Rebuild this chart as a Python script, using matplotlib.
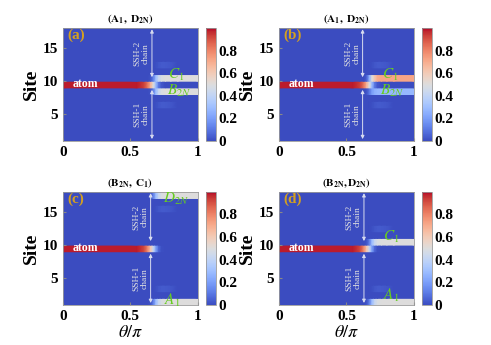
import numpy as np
import matplotlib
matplotlib.use('Agg')
import matplotlib.pyplot as plt

plt.rcParams['font.family'] = 'Liberation Serif'
plt.rcParams['mathtext.fontset'] = 'stix'

theta = [0, 0.55, 0.60, 0.63, 0.65, 0.67, 0.69, 0.71, 0.73, 0.76, 0.80, 0.85, 1.0]

# panel (a)
atom_a = [0.98, 0.98, 0.93, 0.82, 0.68, 0.50, 0.28, 0.10, 0.03, 0.0, 0.0, 0.0, 0.0]
c1_a = [0, 0, 0, 0, 0.02, 0.12, 0.30, 0.42, 0.48, 0.50, 0.50, 0.50, 0.50]
b2n_a = [0, 0, 0, 0, 0.02, 0.12, 0.30, 0.42, 0.48, 0.50, 0.50, 0.50, 0.50]
# panel (b)
atom_b = [0.98, 0.98, 0.93, 0.82, 0.68, 0.50, 0.28, 0.10, 0.03, 0.0, 0.0, 0.0, 0.0]
c1_b = [0, 0, 0, 0, 0.05, 0.25, 0.50, 0.62, 0.70, 0.72, 0.72, 0.72, 0.72]
b2n_b = [0, 0, 0, 0, 0.02, 0.10, 0.20, 0.25, 0.27, 0.28, 0.28, 0.28, 0.28]
# panel (c)
atom_c = [0.98, 0.98, 0.92, 0.78, 0.62, 0.42, 0.20, 0.06, 0.01, 0.0, 0.0, 0.0, 0.0]
d2n_c = [0, 0, 0, 0, 0.02, 0.12, 0.30, 0.42, 0.48, 0.50, 0.50, 0.50, 0.50]
a1_c = [0, 0, 0, 0, 0.02, 0.12, 0.30, 0.42, 0.48, 0.50, 0.50, 0.50, 0.50]
# panel (d)
atom_d = [0.98, 0.98, 0.92, 0.78, 0.62, 0.42, 0.20, 0.06, 0.01, 0.0, 0.0, 0.0, 0.0]
c1_d = [0, 0, 0, 0, 0.02, 0.12, 0.30, 0.42, 0.48, 0.50, 0.50, 0.50, 0.50]
a1_d = [0, 0, 0, 0, 0.02, 0.12, 0.30, 0.42, 0.48, 0.50, 0.50, 0.50, 0.50]
# faint leakage into the chains
faint = [0, 0, 0, 0, 0, 0, 0.01, 0.025, 0.035, 0.035, 0.025, 0.0, 0.0]

n_sites = 17
panel_rows = [
    {9: atom_a, 10: c1_a, 8: b2n_a, 12: faint, 6: faint},
    {9: atom_b, 10: c1_b, 8: b2n_b, 12: faint, 6: faint},
    {9: atom_c, 17: d2n_c, 1: a1_c, 15: faint, 3: faint},
    {9: atom_d, 10: c1_d, 1: a1_d, 12: faint, 3: faint},
]
titles = [r'$\mathbf{(A_1,\ D_{2N})}$', r'$\mathbf{(A_1,\ D_{2N})}$',
          r'$\mathbf{(B_{2N},\ C_1)}$', r'$\mathbf{(B_{2N},D_{2N})}$']
letters = ['(a)', '(b)', '(c)', '(d)']
# green site labels: (text, theta, site)
site_labels = [
    [(r'$C_1$', 0.78, 11.0), (r'$B_{2N}$', 0.77, 8.6)],
    [(r'$C_1$', 0.76, 11.0), (r'$B_{2N}$', 0.75, 8.6)],
    [(r'$D_{2N}$', 0.74, 17.0), (r'$A_1$', 0.75, 1.7)],
    [(r'$C_1$', 0.77, 11.2), (r'$A_1$', 0.77, 2.4)],
]
arrow_x = [0.66, 0.62, 0.65, 0.63]

fig = plt.figure(figsize=(4.91, 3.45), dpi=100)
lefts = [0.128, 0.568, 0.128, 0.568]
bottoms = [0.591, 0.591, 0.116, 0.116]
w, h = 0.275, 0.328

for k in range(4):
    ax = fig.add_axes([lefts[k], bottoms[k], w, h])
    Z = np.zeros((n_sites, len(theta)))
    for r, vals in panel_rows[k].items():
        Z[r - 1] = vals
    C = np.repeat(Z, 2, axis=0)
    y = np.repeat(np.arange(1, n_sites + 1), 2) + np.tile([0, 1], n_sites)
    X, Y = np.meshgrid(theta, y)
    m = ax.pcolormesh(X, Y, C, cmap='coolwarm', vmin=0, vmax=1, shading='gouraud')
    ax.set_xlim(0, 1)
    ax.set_ylim(1, 18)
    ax.set_xticks([0, 0.5, 1])
    ax.set_xticklabels(['0', '0.5', '1'])
    ax.set_yticks([5, 10, 15])
    ax.tick_params(direction='in', length=2, labelsize=11, color='#888888')
    for lab in ax.get_xticklabels() + ax.get_yticklabels():
        lab.set_fontweight('bold')
    for s in ax.spines.values():
        s.set_color('#999999')
        s.set_linewidth(0.6)
    ax.set_ylabel('Site', fontsize=14, fontweight='bold', labelpad=2)
    if k >= 2:
        ax.set_xlabel(r'$\theta/\pi$', fontsize=13, labelpad=1)
    ax.set_title(titles[k], fontsize=8, pad=4)

    ax.text(0.03, 16.9, letters[k], color='#d4a020', fontsize=11,
            fontweight='bold', va='center', ha='left')
    ax.text(0.07, 9.55, 'atom', color='white', fontsize=8.5,
            fontweight='bold', va='center', ha='left')

    xa = arrow_x[k]
    arr = dict(arrowstyle='<|-|>', color='#d8dcf0', lw=0.7, mutation_scale=5,
               shrinkA=0, shrinkB=0)
    ax.annotate('', xy=(xa, 17.8), xytext=(xa, 10.6), arrowprops=arr)
    ax.annotate('', xy=(xa, 8.7), xytext=(xa, 1.3), arrowprops=arr)
    ax.text(xa - 0.075, 14.2, 'SSH-2\nchain', rotation=90, color='#e0e0e0',
            fontsize=6.8, ha='center', va='center', linespacing=1.0)
    ax.text(xa - 0.075, 5.0, 'SSH-1\nchain', rotation=90, color='#e0e0e0',
            fontsize=6.8, ha='center', va='center', linespacing=1.0)

    for txt, tx, ty in site_labels[k]:
        ax.text(tx, ty, txt, color='#66cc22', fontsize=11, ha='left', va='center')

    cax = fig.add_axes([lefts[k] + 0.2916, bottoms[k], 0.0204, h])
    cb = fig.colorbar(m, cax=cax, ticks=[0, 0.2, 0.4, 0.6, 0.8])
    cb.ax.set_yticklabels(['0', '0.2', '0.4', '0.6', '0.8'])
    cb.ax.tick_params(length=0, labelsize=11, pad=2)
    for lab in cb.ax.get_yticklabels():
        lab.set_fontweight('bold')
    cb.outline.set_edgecolor('#999999')
    cb.outline.set_linewidth(0.6)

fig.savefig('out.png', dpi=100)
